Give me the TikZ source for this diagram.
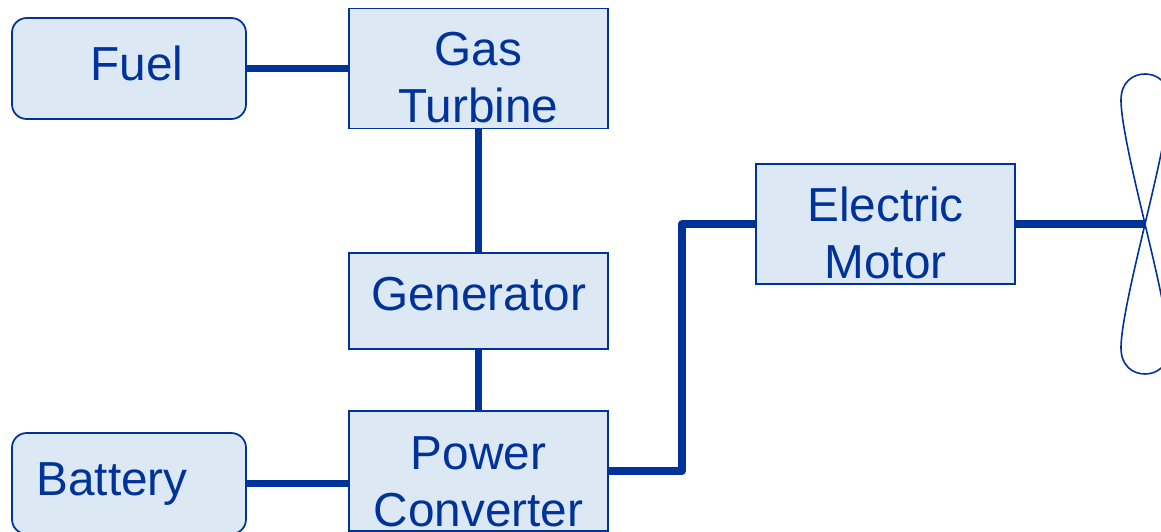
\documentclass[tikz,border=0pt]{standalone}
\usepackage{fontspec}
\setmainfont{Liberation Sans}
\definecolor{c1}{HTML}{003399}
\definecolor{c2}{HTML}{DCE9F5}
\newcommand{\blocktext}[2]{\raisebox{#1}[0pt][0pt]{\begin{tabular}{@{}c@{}}#2\end{tabular}}}

\begin{document}
\begin{tikzpicture}[
    x=0.75pt, y=-0.75pt,
    every node/.style={font=\fontsize{35.8pt}{42.75pt}\selectfont, text=c1},
    blockbox/.style={draw=c1, fill=c2, line width=1.3pt, inner sep=0pt, outer sep=0pt, minimum width=194.25pt},
    softbox/.style={blockbox, rounded corners=11pt, minimum width=175.5pt, minimum height=75.75pt},
    wire/.style={draw=c1, line width=5.6pt, line join=round},
    blade/.style={draw=c1, line width=1.2pt},
]
\useasboundingbox (0,0) rectangle (1161,532);
\clip (0,0) rectangle (1161,532);

% ---------------- left: sources
\node[softbox] (fuel) at (129,68.5) {\blocktext{-6.95pt}{\hspace*{12pt}Fuel}};
\node[softbox] (battery) at (129,483.5) {\blocktext{-6.95pt}{Battery\hspace*{25.5pt}}};

% ---------------- middle: power chain
\node[blockbox, minimum height=90pt] (turbine) at (478.5,68.5) {\blocktext{-16.6pt}{Gas\\Turbine}};
\node[blockbox, minimum height=72pt] (generator) at (478.5,301) {\blocktext{-5.15pt}{Generator}};
\node[blockbox, minimum height=90pt] (converter) at (478.5,471) {\blocktext{-17.55pt}{Power\\Converter}};

% ---------------- right: motor and propeller
\node[blockbox, minimum height=90pt] (motor) at (885.5,224) {\blocktext{-16.85pt}{Electric\\Motor}};
\coordinate (elbow) at (682,224);
\coordinate (hub) at (1145,224);

\draw[wire] (fuel) -- (turbine);
\draw[wire] (turbine) -- (generator);
\draw[wire] (generator) -- (converter);
\draw[wire] (battery.east) -- (battery.east -| converter.west);
\draw[wire] (converter.east) -| (elbow) -- (motor.west);
\draw[wire] (motor.east) -- (hub);

\draw[blade] (hub) .. controls (1137,190) and (1121,125) .. (1121,100)
    .. controls (1121,82) and (1133,74) .. (1145,74)
    .. controls (1157,74) and (1169,82) .. (1169,100)
    .. controls (1169,125) and (1153,190) .. (hub)
    .. controls (1137,258) and (1121,323) .. (1121,348)
    .. controls (1121,366) and (1133,374) .. (1145,374)
    .. controls (1157,374) and (1169,366) .. (1169,348)
    .. controls (1169,323) and (1153,258) .. (hub);

\end{tikzpicture}
\end{document}
